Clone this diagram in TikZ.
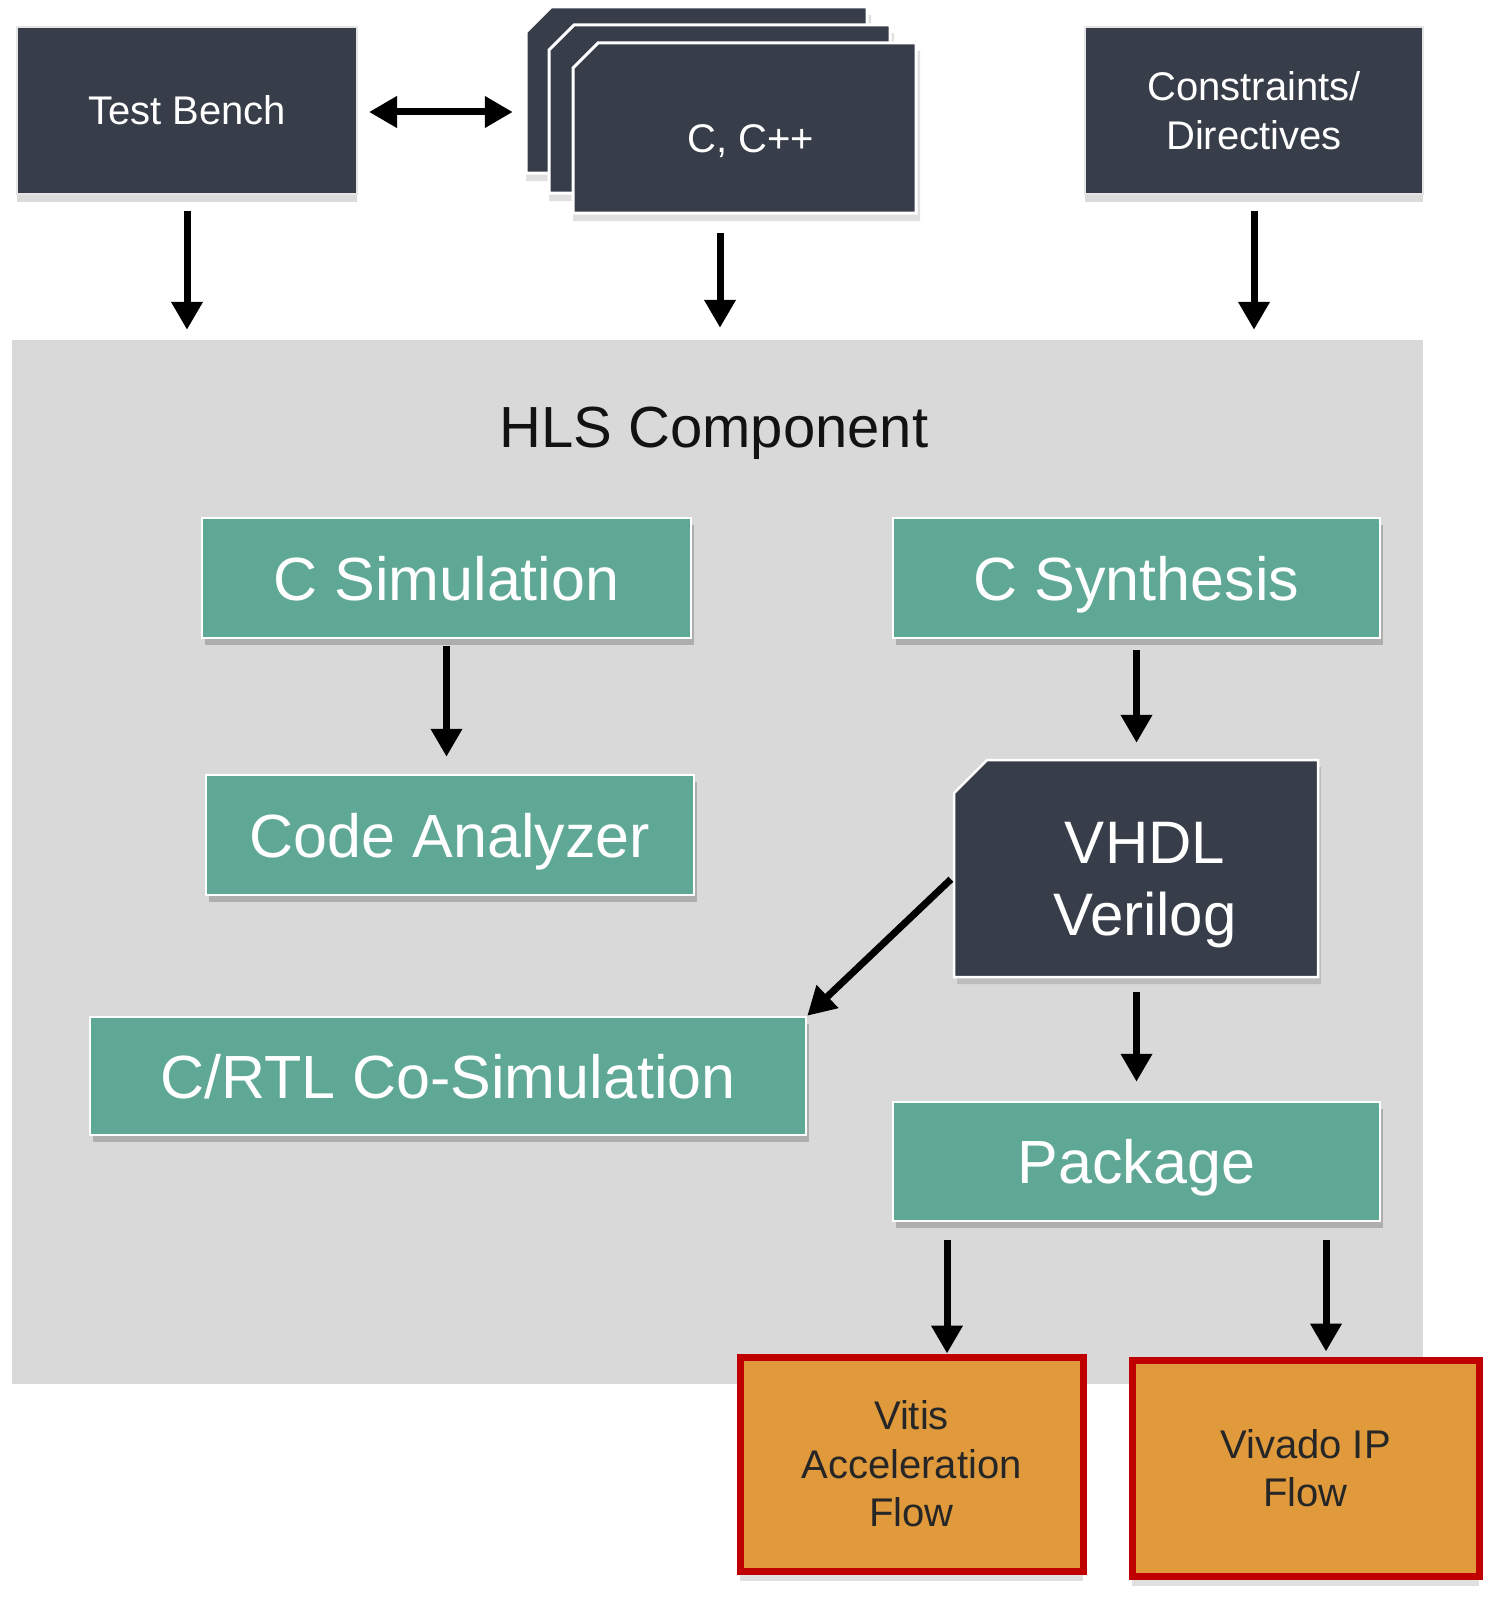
\documentclass[tikz,border=0pt]{standalone}
\usepackage{fontspec}
\setmainfont{Liberation Sans}
\usetikzlibrary{arrows.meta,shadows}
\definecolor{dk}{HTML}{373D49}
\definecolor{tl}{HTML}{5FA895}
\definecolor{bgg}{HTML}{D9D9D9}
\definecolor{org}{HTML}{E09A3C}
\definecolor{rd}{HTML}{C00000}
\begin{document}
\begin{tikzpicture}[x=1bp,y=-1bp,
  darkbox/.style={fill=dk, draw=white!90!black, line width=2bp, text=white, inner sep=0pt, align=center,
    font=\fontsize{40bp}{49bp}\selectfont,
    drop shadow={shadow xshift=0bp, shadow yshift=-8bp, fill=black!14, opacity=1}},
  cardst/.style={fill=dk, draw=white, line width=3bp},
  cardsh/.style={fill=black!12},
  txtonly/.style={inner sep=0pt, align=center, text=white},
  tealbox/.style={fill=tl, draw=white, line width=2.5bp, text=white, inner sep=0pt, align=center,
    font=\fontsize{61bp}{72bp}\selectfont, text height=44bp, text depth=0bp,
    drop shadow={shadow xshift=3bp, shadow yshift=-7bp, fill=black!45, opacity=0.55}},
  orgbox/.style={fill=org, draw=rd, line width=7bp, text=black!85, inner sep=0pt, align=center,
    font=\fontsize{40bp}{48.5bp}\selectfont,
    drop shadow={shadow xshift=0bp, shadow yshift=-10bp, fill=black!12, opacity=1}},
  arr/.style={line width=7bp, -{Triangle[width=30bp,length=28bp]}},
  darr/.style={line width=7bp, {Triangle[width=30bp,length=28bp]}-{Triangle[width=30bp,length=28bp]}}
]
\useasboundingbox[fill=white] (0,0) rectangle (1492,1600);

% HLS container
\node[fill=bgg, inner sep=0pt, minimum width=1411bp, minimum height=1044bp] (hls) at (717.5,862) {};
\node[font=\fontsize{58bp}{66bp}\selectfont, text=black!93, inner sep=0pt] (hlst) at (714,433) {HLS Component};

% top boxes
\node[darkbox, minimum width=340bp, minimum height=167bp] (tb) at (187,110.5) {Test Bench};
\node[darkbox, minimum width=338bp, minimum height=167bp] (cons) at (1254,110.5) {Constraints/\\Directives};

% C, C++ stacked cards
\fill[cardsh] (551,15) -- (871,15) -- (871,181) -- (526,181) -- (526,40) -- cycle;
\draw[cardst] (551,7) -- (867,7) -- (867,173) -- (526,173) -- (526,32) -- cycle;
\fill[cardsh] (574,33) -- (894,33) -- (894,201) -- (549,201) -- (549,58) -- cycle;
\draw[cardst] (574,25) -- (890,25) -- (890,193) -- (549,193) -- (549,50) -- cycle;
\fill[cardsh] (598,51) -- (920,51) -- (920,221) -- (573,221) -- (573,76) -- cycle;
\draw[cardst] (598,43) -- (916,43) -- (916,213) -- (573,213) -- (573,68) -- cycle;
\node[inner sep=0pt, minimum width=341bp, minimum height=166bp] (cback) at (696.5,90) {};
\node[txtonly, minimum width=343bp, minimum height=170bp] (cpp) at (744.5,128) {};
\node[txtonly, font=\fontsize{40bp}{49bp}\selectfont] (cpptxt) at (751,141) {C, C++};

% teal boxes
\node[tealbox, minimum width=489bp, minimum height=120bp] (csim) at (446.5,578) {C Simulation};
\node[tealbox, minimum width=487bp, minimum height=120bp] (csyn) at (1136.5,578) {C Synthesis};
\node[tealbox, minimum width=488bp, minimum height=120bp] (cana) at (450,835) {Code Analyzer};
\node[tealbox, minimum width=716bp, minimum height=118bp] (cosim) at (448,1076) {C/RTL Co-Simulation};
\node[tealbox, minimum width=487bp, minimum height=119bp] (pkg) at (1136.5,1161.5) {Package};

% VHDL / Verilog
\fill[black!35, opacity=0.55] (990,767) -- (1321,767) -- (1321,984) -- (957,984) -- (957,800) -- cycle;
\draw[fill=dk, draw=white, line width=2.5bp] (987,760) -- (1318,760) -- (1318,977) -- (954,977) -- (954,793) -- cycle;
\node[inner sep=0pt, minimum width=364bp, minimum height=217bp] (vhdl) at (1136,868.5) {};
\node[txtonly, font=\fontsize{60bp}{72bp}\selectfont] (vhdltxt) at (1145,885) {VHDL\\Verilog};

% output flows
\node[orgbox, minimum width=343bp, minimum height=214bp] (vitis) at (911.5,1464) {Vitis\\Acceleration\\Flow};
\node[orgbox, minimum width=347bp, minimum height=216bp] (vivado) at (1305.5,1468) {Vivado IP\\Flow};

% connectors
\draw[darr, shorten <=11bp, shorten >=13bp] (tb.east |- 0,112) -- (cback.west |- 0,112);
\draw[arr, shorten <=16bp, shorten >=10bp] (tb.south) -- (tb.south |- hls.north);
\draw[arr, shorten <=20bp, shorten >=12bp] ([xshift=-24.5bp]cpp.south) -- ([xshift=-24.5bp]cpp.south |- hls.north);
\draw[arr, shorten <=16bp, shorten >=10bp] (cons.south) -- (cons.south |- hls.north);
\draw[arr, shorten <=7bp, shorten >=17bp] (csim.south) -- (csim.south |- cana.north);
\draw[arr, shorten <=11bp, shorten >=17bp] (csyn.south) -- (csyn.south |- vhdl.north);
\draw[arr, shorten <=4bp] ([yshift=-8bp]vhdl.west) -- (cosim.north east);
\draw[arr, shorten <=15bp, shorten >=19bp] (vhdl.south -| pkg.north) -- (pkg.north);
\draw[arr, shorten <=18bp] ([xshift=35.5bp]pkg.south -| vitis.north) -- ([xshift=35.5bp]vitis.north);
\draw[arr, shorten <=18bp, shorten >=5bp] ([xshift=20.5bp]pkg.south -| vivado.north) -- ([xshift=20.5bp]vivado.north);
\end{tikzpicture}
\end{document}
